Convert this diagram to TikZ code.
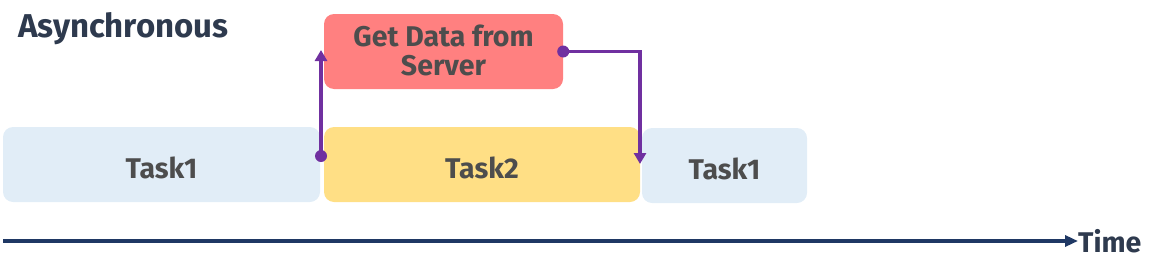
\documentclass[tikz,border=0pt]{standalone}
\usepackage{fontspec}
\setmainfont{Fira Sans}
\usetikzlibrary{arrows.meta,positioning,calc}
\definecolor{taskblue}{HTML}{E1EDF7}
\definecolor{taskyellow}{HTML}{FFDF85}
\definecolor{serverred}{HTML}{FF8080}
\definecolor{flowpurple}{HTML}{7030A0}
\definecolor{timenavy}{HTML}{1F3864}
\definecolor{textgray}{HTML}{4D4D4D}
\definecolor{titleink}{HTML}{2E3A4E}
\tikzset{
  task/.style={rounded corners=10pt, minimum height=75pt, inner sep=0pt,
    font=\fontsize{28.5}{32}\selectfont\bfseries, text=textgray},
  label/.style={text=textgray, font=\fontsize{28.5}{32}\selectfont\bfseries, inner sep=0pt},
  flow/.style={flowpurple, line width=3.5pt, -{Triangle[width=12pt,length=11pt]}},
  dot/.style={fill=flowpurple}
}
\begin{document}
\begin{tikzpicture}[x=1pt, y=-1pt]
        \useasboundingbox (0,0) rectangle (1157,271);
        \node[task, fill=taskblue, minimum width=317pt] (t1) at (161.5,164.5) {};
        \node[task, fill=taskyellow, minimum width=316pt] (t2) at (482,164.5) {};
        \node[task, fill=taskblue, minimum width=165pt] (t3) at (724.5,165.5) {};
        \node[task, fill=serverred, minimum width=239pt] (get) at (443.5,51.5) {};
        \node[label, anchor=base] at (443.5,46) {Get Data from};
        \node[label, anchor=base] at (443.5,75) {Server};
        \node[label] at ($(t1.center)+(0,3)$) {Task1};
        \node[label] at ($(t2.center)+(0,3)$) {Task2};
        \node[label] at ($(t3.center)+(0,3)$) {Task1};
        \node[anchor=base west, inner sep=0pt, text=titleink, font=\fontsize{33}{36}\selectfont\bfseries] (title) at (18,37) {Asynchronous};
        \coordinate (callA) at (321,156);
        \coordinate (upA) at (321,50);
        \coordinate (downB) at (640,164);
        \draw[flow] (callA) -- (upA);
        \fill[dot] (callA) circle (6);
        \draw[flow] (get.east) -| (downB);
        \fill[dot] (get.east) circle (6);
        \node[anchor=west, inner sep=0pt, text=titleink, font=\fontsize{28.5}{32}\selectfont\bfseries] (time) at (1078,241) {Time};
        \coordinate (start) at (3,241);
        \draw[timenavy, line width=4pt, -{Triangle[width=11pt,length=13pt]}] (start) -- (time.west);
      \end{tikzpicture}
\end{document}
